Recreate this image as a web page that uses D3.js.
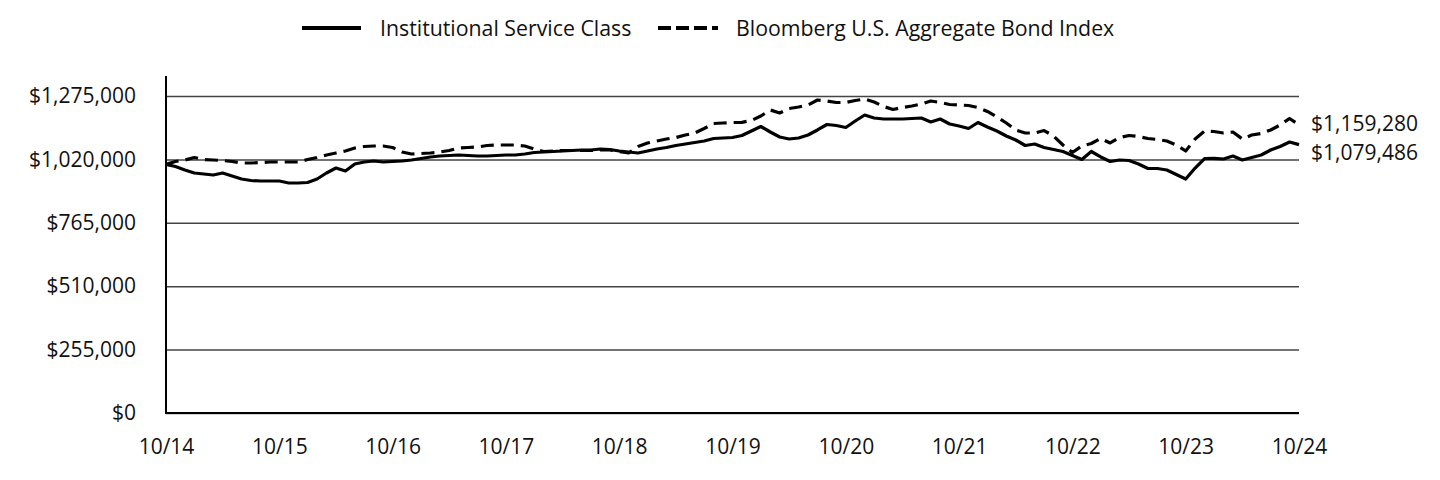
<!DOCTYPE html>
<html>
<head>
<meta charset="utf-8">
<script src="https://cdn.jsdelivr.net/npm/d3@7"></script>
<style>
  html, body { margin: 0; padding: 0; background: #fff; }
  svg { display: block; font-family: "Open Sans", "Noto Sans", sans-serif; }
</style>
</head>
<body>
<svg id="chart" width="1440" height="480"></svg>
<script>
// ---- Data (values in dollars, monthly from 10/2014 to 10/2024) ----
const seriesNames = ["Institutional Service Class", "Bloomberg U.S. Aggregate Bond Index"];

const fundValues = [
  1000000, 991400, 977400, 965300, 961300, 957300, 965300, 953200, 941200, 935100,
  933100, 933100, 933100, 925100, 925100, 927100, 941200, 965300, 985400, 973300,
  1001500, 1009500, 1013600, 1009500, 1011600, 1013600, 1017600, 1023600, 1029700, 1033700,
  1035700, 1037700, 1035700, 1033700, 1033700, 1035700, 1037700, 1037700, 1041700, 1047800,
  1049800, 1051800, 1053800, 1055800, 1057800, 1057800, 1061800, 1059800, 1053800, 1049800,
  1045700, 1053800, 1061800, 1067900, 1075900, 1081900, 1088000, 1094000, 1104100, 1106100,
  1108100, 1116100, 1134200, 1152300, 1130200, 1110100, 1102100, 1106100, 1118100, 1138300,
  1160400, 1156400, 1148300, 1174500, 1198600, 1186500, 1182500, 1182500, 1182500, 1184500,
  1186500, 1170400, 1182500, 1162400, 1154300, 1144300, 1168400, 1150300, 1134200, 1114100,
  1098000, 1075900, 1081900, 1067900, 1059800, 1051800, 1035700, 1019600, 1051800, 1029700,
  1011600, 1017600, 1015600, 1001500, 983400, 983400, 977400, 959300, 941200, 985400,
  1023600, 1024400, 1021600, 1033700, 1017600, 1027600, 1037700, 1057800, 1071900, 1090000,
  1079486
];

const indexValues = [
  1000000, 1011600, 1017600, 1027600, 1019600, 1017600, 1015600, 1011600, 1005500, 1005500,
  1007500, 1009500, 1009500, 1009500, 1009500, 1019600, 1027600, 1037700, 1045700, 1053800,
  1065900, 1071900, 1073900, 1073900, 1067900, 1049800, 1041700, 1043700, 1045700, 1049800,
  1055800, 1065900, 1067900, 1069900, 1075900, 1077900, 1077900, 1077900, 1073900, 1061800,
  1051800, 1053800, 1055800, 1055800, 1055800, 1055800, 1057800, 1057800, 1051800, 1045700,
  1071900, 1086000, 1094000, 1102100, 1108100, 1118100, 1126200, 1144300, 1164400, 1166400,
  1168400, 1169200, 1176500, 1194600, 1218700, 1206600, 1224700, 1230800, 1238800, 1258900,
  1254900, 1248900, 1248900, 1256900, 1262900, 1250900, 1232800, 1220700, 1228800, 1234800,
  1242800, 1254900, 1248900, 1240800, 1238800, 1236800, 1228800, 1212700, 1190500, 1166400,
  1138300, 1126200, 1126200, 1136200, 1114100, 1077900, 1047800, 1073900, 1084000, 1104100,
  1086000, 1108100, 1116100, 1112100, 1104100, 1100000, 1094000, 1077900, 1053800, 1102100,
  1134200, 1132200, 1126200, 1130200, 1102100, 1118100, 1124200, 1138300, 1158400, 1184500,
  1159280
];

const yTicks = [0, 255000, 510000, 765000, 1020000, 1275000];
const xTickLabels = ["10/14", "10/15", "10/16", "10/17", "10/18", "10/19", "10/20", "10/21", "10/22", "10/23", "10/24"];
const endLabels = ["$1,079,486", "$1,159,280"];

(function () {
// ---- Layout ----
const svg = d3.select("#chart");
const mLeft = 166, mRight = 1299, mTop = 96, mBottom = 413;
const fs = 21;

const x = d3.scaleLinear().domain([0, fundValues.length - 1]).range([mLeft, mRight]);
const y = d3.scaleLinear().domain([0, 1275000]).range([mBottom, mTop]);
const xYear = d3.scaleLinear().domain([0, xTickLabels.length - 1]).range([mLeft, mRight]);

// gridlines
const gridAxis = d3.axisLeft(y).tickValues(yTicks).tickSize(-(mRight - mLeft)).tickFormat("");
const grid = svg.append("g").attr("transform", `translate(${mLeft},0)`).call(gridAxis);
grid.select(".domain").remove();
grid.selectAll("line").attr("stroke", "#444").attr("stroke-width", 1.5);

// y tick labels
const yAxis = d3.axisLeft(y).tickValues(yTicks).tickSize(0).tickPadding(30)
  .tickFormat(d => "$" + d3.format(",")(d));
const ya = svg.append("g").attr("transform", `translate(${mLeft},0)`).call(yAxis);
ya.select(".domain").remove();
ya.selectAll("text").attr("font-size", fs).attr("fill", "#111").attr("font-family", "Open Sans");

// x tick labels
const xAxis = d3.axisBottom(xYear).tickValues(d3.range(xTickLabels.length)).tickSize(0).tickPadding(26)
  .tickFormat(i => xTickLabels[i]);
const xa = svg.append("g").attr("transform", `translate(0,${mBottom})`).call(xAxis);
xa.select(".domain").remove();
xa.selectAll("text").attr("font-size", fs).attr("fill", "#111").attr("font-family", "Open Sans");

// axis lines
svg.append("line").attr("x1", mLeft).attr("x2", mLeft).attr("y1", 76).attr("y2", mBottom + 1)
  .attr("stroke", "#000").attr("stroke-width", 2);
svg.append("line").attr("x1", mLeft - 1).attr("x2", mRight).attr("y1", mBottom).attr("y2", mBottom)
  .attr("stroke", "#000").attr("stroke-width", 2);

// lines
const line = d3.line().x((d, i) => x(i)).y(d => y(d)).curve(d3.curveLinear);
svg.append("path").datum(indexValues).attr("d", line)
  .attr("fill", "none").attr("stroke", "#000").attr("stroke-width", 3.2)
  .attr("stroke-dasharray", "13,7").attr("stroke-linejoin", "round");
svg.append("path").datum(fundValues).attr("d", line)
  .attr("fill", "none").attr("stroke", "#000").attr("stroke-width", 3.2)
  .attr("stroke-linejoin", "round");

// end labels
svg.append("text").attr("x", 1311).attr("y", 131)
  .attr("font-size", fs).attr("fill", "#111").text(endLabels[1]);
svg.append("text").attr("x", 1311).attr("y", 159.5)
  .attr("font-size", fs).attr("fill", "#111").text(endLabels[0]);

// legend
const legend = svg.append("g");
legend.append("line").attr("x1", 302).attr("x2", 361).attr("y1", 28).attr("y2", 28)
  .attr("stroke", "#000").attr("stroke-width", 4);
legend.append("text").attr("x", 380).attr("y", 35.5).attr("font-size", 21.3).attr("fill", "#111").text(seriesNames[0]);
legend.append("line").attr("x1", 658).attr("x2", 718).attr("y1", 28).attr("y2", 28)
  .attr("stroke", "#000").attr("stroke-width", 4).attr("stroke-dasharray", "13,5");
legend.append("text").attr("x", 736).attr("y", 35.5).attr("font-size", 21.3).attr("fill", "#111").text(seriesNames[1]);
})();
</script>
</body>
</html>
